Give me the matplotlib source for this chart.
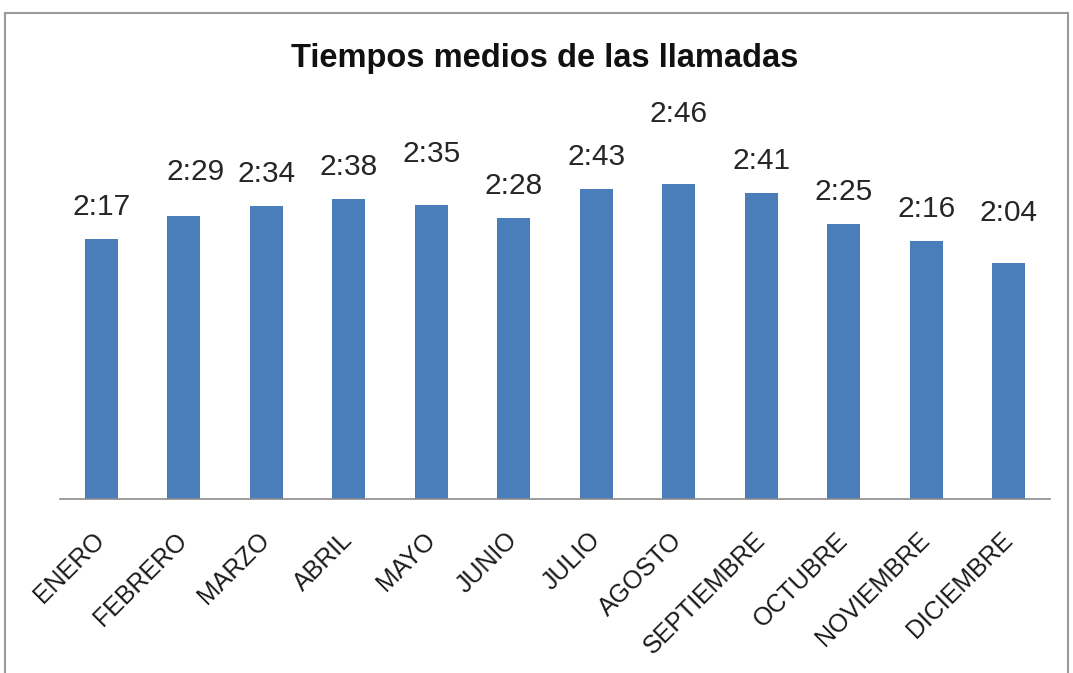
import matplotlib.pyplot as plt
from matplotlib.patches import Rectangle

# Average call duration per month (seconds)
months = ["ENERO", "FEBRERO", "MARZO", "ABRIL", "MAYO", "JUNIO", "JULIO",
          "AGOSTO", "SEPTIEMBRE", "OCTUBRE", "NOVIEMBRE", "DICIEMBRE"]
seconds = [137, 149, 154, 158, 155, 148, 163, 166, 161, 145, 136, 124]

# extra nudges for the value labels (pixels)
label_dx = [0, 12, 0, 0, 0, 0, 0, 0, 0, 0, 0, 0]
label_dy = [0, 12, 0, 0, 19, 0, 0, 38, 0, 0, 0, 18]

def mmss(s):
    return f"{s // 60}:{s % 60:02d}"

plt.rcParams['font.family'] = ['Liberation Sans', 'DejaVu Sans']

W, H = 1073, 673
fig = plt.figure(figsize=(W / 100, H / 100), dpi=100)
fig.patch.set_facecolor("white")

# chart frame
fig.patches.append(Rectangle((5 / W, -0.1), 1063 / W, 1.1 - 13 / H,
                             transform=fig.transFigure, fill=False,
                             edgecolor="#9a9a9a", linewidth=1.5))

ax = fig.add_axes([60 / W, (H - 499) / H, 990 / W, 342 / H])
x = range(len(months))
ax.bar(x, seconds, width=0.4, color="#4a7ebb", edgecolor="none")

for i, s in enumerate(seconds):
    ax.annotate(mmss(s), (i, s), xytext=(label_dx[i], 18 + label_dy[i]),
                textcoords="offset pixels", ha="center", va="bottom",
                fontsize=21.5, color="#262626")

ax.set_xlim(-0.5, len(months) - 0.5)
ax.set_ylim(0, 180)
ax.set_xticks(list(x))
ax.set_xticklabels(months, rotation=45, ha="right", va="center",
                   rotation_mode="anchor", fontsize=18, color="#1a1a1a")
ax.tick_params(axis="x", length=0, pad=27)
ax.set_yticks([])
for side in ["top", "right", "left"]:
    ax.spines[side].set_visible(False)
ax.spines["bottom"].set_color("#8c8c8c")
ax.spines["bottom"].set_linewidth(1.2)

fig.text(545 / W, 1 - 58 / H, "Tiempos medios de las llamadas",
         ha="center", va="center", fontsize=23.5, fontweight="bold",
         color="#111111")

fig.savefig("out.png", dpi=100)
